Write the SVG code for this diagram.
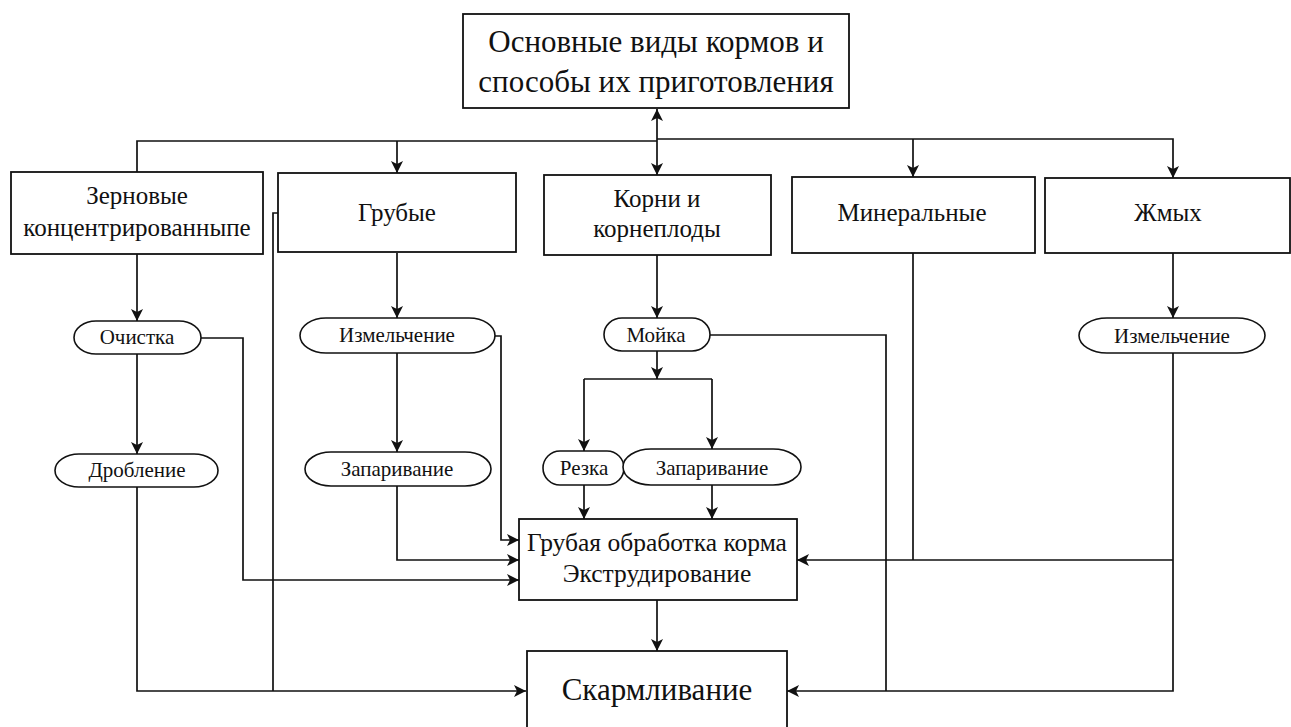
<svg xmlns="http://www.w3.org/2000/svg" width="1291" height="727" viewBox="0 0 1291 727" font-family="Liberation Serif, Times New Roman, serif">
  <style>
    .box { fill: #fff; stroke: #111; stroke-width: 1.8; }
    .op { fill: #fff; stroke: #111; stroke-width: 1.6; }
    .link { fill: none; stroke: #111; stroke-width: 1.7; }
    .arr { marker-end: url(#ah); }
  </style>
  <defs>
    <marker id="ah" markerUnits="userSpaceOnUse" markerWidth="14" markerHeight="12" refX="12" refY="6" orient="auto">
      <path d="M0,0 L12,6 L0,12 L3,6 z" fill="#111"/>
    </marker>
  </defs>
  <rect width="1291" height="727" fill="#fff"/>

  <!-- connectors -->
  <g id="connectors">
    <path class="link" d="M137,172 V141 H657"/>
    <path class="link" d="M657,139 H1173 V178" marker-end="url(#ah)"/>
    <path class="link arr" d="M397,141 V173"/>
    <path class="link arr" d="M913,139 V177"/>
    <path class="link arr" d="M657,140 V109"/>
    <path class="link arr" d="M657,140 V175"/>

    <path class="link arr" d="M137,254 V321"/>
    <path class="link arr" d="M137,354 V454"/>
    <path class="link arr" d="M137,487 V691 H526"/>
    <path class="link arr" d="M201,338 H243 V580 H519"/>
    <path class="link" d="M278,213 H273 V691"/>

    <path class="link arr" d="M397,253 V318"/>
    <path class="link arr" d="M397,353 V452"/>
    <path class="link arr" d="M397,486 V560 H519"/>
    <path class="link arr" d="M495,336 H501 V540 H519"/>

    <path class="link arr" d="M657,255 V318"/>
    <path class="link arr" d="M657,351 V379"/>
    <path class="link" d="M584,379 H712"/>
    <path class="link arr" d="M584,379 V451"/>
    <path class="link arr" d="M712,379 V449"/>
    <path class="link arr" d="M584,485 V519"/>
    <path class="link arr" d="M712,485 V519"/>
    <path class="link" d="M710,335 H886 V691"/>
    <path class="link arr" d="M657,600 V651"/>

    <path class="link" d="M913,253 V560"/>
    <path class="link arr" d="M1173,253 V318"/>
    <path class="link arr" d="M1173,353 V691 H787"/>
    <path class="link arr" d="M1173,560 H797"/>
  </g>

  <!-- top node -->
  <g id="main" text-anchor="middle" fill="#111" font-size="31">
    <rect class="box" x="463" y="14" width="386" height="94"/>
    <text x="656" y="52">Основные виды кормов и</text>
    <text x="656" y="92">способы их приготовления</text>
  </g>

  <!-- feed categories -->
  <g id="grain" text-anchor="middle" fill="#111" font-size="25">
    <rect class="box" x="11" y="172" width="252" height="82"/>
    <text x="137" y="204">Зерновые</text>
    <text x="137" y="236">концентрированныпе</text>
  </g>
  <g id="rough" text-anchor="middle" fill="#111" font-size="25">
    <rect class="box" x="278" y="173" width="238" height="79"/>
    <text x="397" y="221">Грубые</text>
  </g>
  <g id="roots" text-anchor="middle" fill="#111" font-size="25">
    <rect class="box" x="544" y="175" width="227" height="80"/>
    <text x="657" y="207">Корни и</text>
    <text x="657" y="237">корнеплоды</text>
  </g>
  <g id="mineral" text-anchor="middle" fill="#111" font-size="25">
    <rect class="box" x="792" y="177" width="243" height="76"/>
    <text x="912" y="221">Минеральные</text>
  </g>
  <g id="cake" text-anchor="middle" fill="#111" font-size="25">
    <rect class="box" x="1045" y="178" width="245" height="75"/>
    <text x="1168" y="221">Жмых</text>
  </g>

  <!-- processing steps -->
  <g id="cleaning" text-anchor="middle" fill="#111" font-size="21">
    <rect class="op" x="74" y="321" width="127" height="33" rx="22" ry="16.5"/>
    <text x="137" y="344">Очистка</text>
  </g>
  <g id="crushing" text-anchor="middle" fill="#111" font-size="21">
    <rect class="op" x="55" y="454" width="163" height="33" rx="24" ry="16.5"/>
    <text x="137" y="477">Дробление</text>
  </g>
  <g id="chopping-rough" text-anchor="middle" fill="#111" font-size="21">
    <rect class="op" x="300" y="318" width="195" height="35" rx="26" ry="17.5"/>
    <text x="397" y="342">Измельчение</text>
  </g>
  <g id="steaming-rough" text-anchor="middle" fill="#111" font-size="21">
    <rect class="op" x="305" y="452" width="186" height="34" rx="26" ry="17"/>
    <text x="397" y="476">Запаривание</text>
  </g>
  <g id="washing" text-anchor="middle" fill="#111" font-size="21">
    <rect class="op" x="604" y="318" width="106" height="33" rx="18" ry="16.5"/>
    <text x="656" y="342">Мойка</text>
  </g>
  <g id="cutting" text-anchor="middle" fill="#111" font-size="21">
    <rect class="op" x="543" y="451" width="81" height="34" rx="17" ry="17"/>
    <text x="584" y="475">Резка</text>
  </g>
  <g id="steaming-roots" text-anchor="middle" fill="#111" font-size="21">
    <rect class="op" x="623" y="449" width="178" height="36" rx="28" ry="18"/>
    <text x="712" y="475">Запаривание</text>
  </g>
  <g id="chopping-cake" text-anchor="middle" fill="#111" font-size="21">
    <rect class="op" x="1079" y="318" width="186" height="35" rx="28" ry="17.5"/>
    <text x="1172" y="343">Измельчение</text>
  </g>

  <!-- processing and feeding -->
  <g id="processing" text-anchor="middle" fill="#111" font-size="25.5">
    <rect class="box" x="519" y="519" width="278" height="81"/>
    <text x="657" y="551">Грубая обработка корма</text>
    <text x="657" y="582">Экструдирование</text>
  </g>
  <g id="feeding" text-anchor="middle" fill="#111" font-size="31">
    <rect class="box" x="527" y="651" width="260" height="90"/>
    <text x="657" y="700">Скармливание</text>
  </g>
</svg>
